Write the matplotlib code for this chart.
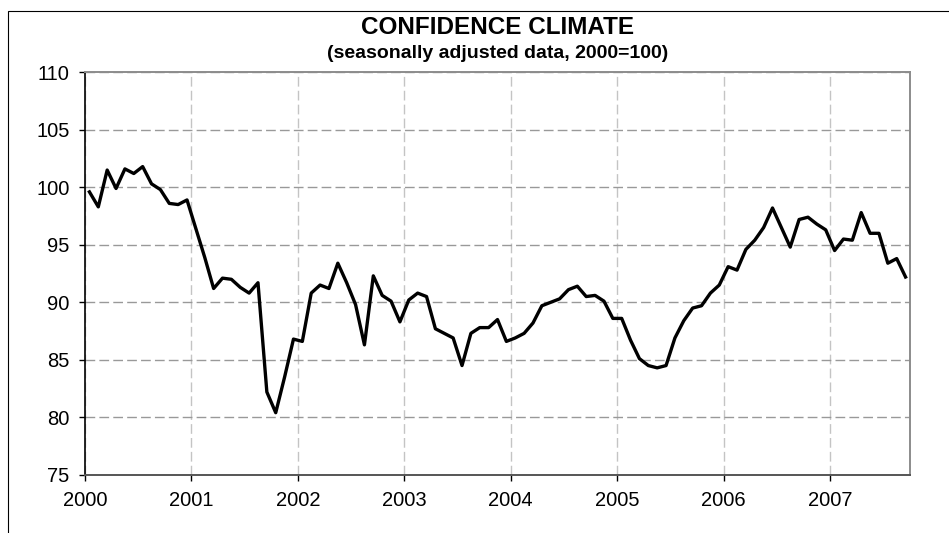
import numpy as np
import matplotlib
matplotlib.use("Agg")
import matplotlib.pyplot as plt
from matplotlib.patches import Rectangle

# monthly confidence climate index, Jan 2000 - Sep 2007
years = ["2000", "2001", "2002", "2003", "2004", "2005", "2006", "2007"]
climate_2000 = [99.6, 98.3, 101.5, 99.9, 101.6, 101.2, 101.8, 100.3, 99.8, 98.6, 98.5, 98.9]
climate_2001 = [96.4, 93.9, 91.2, 92.1, 92.0, 91.3, 90.8, 91.7, 82.2, 80.4, 83.5, 86.8]
climate_2002 = [86.6, 90.8, 91.5, 91.2, 93.4, 91.7, 89.8, 86.3, 92.3, 90.6, 90.1, 88.3]
climate_2003 = [90.2, 90.8, 90.5, 87.7, 87.3, 86.9, 84.5, 87.3, 87.8, 87.8, 88.5, 86.6]
climate_2004 = [86.9, 87.3, 88.2, 89.7, 90.0, 90.3, 91.1, 91.4, 90.5, 90.6, 90.1, 88.6]
climate_2005 = [88.6, 86.7, 85.1, 84.5, 84.3, 84.5, 86.9, 88.4, 89.5, 89.7, 90.8, 91.5]
climate_2006 = [93.1, 92.8, 94.6, 95.4, 96.5, 98.2, 96.5, 94.8, 97.2, 97.4, 96.8, 96.3]
climate_2007 = [94.5, 95.5, 95.4, 97.8, 96.0, 96.0, 93.4, 93.8, 92.2]

values = (climate_2000 + climate_2001 + climate_2002 + climate_2003
          + climate_2004 + climate_2005 + climate_2006 + climate_2007)

W, H = 949, 533
fig = plt.figure(figsize=(W / 100, H / 100), dpi=100)
plt.rcParams["font.family"] = ["Liberation Sans", "DejaVu Sans"]
plt.rcParams["lines.scale_dashes"] = False

# outer chart frame (right/bottom edges fall outside the picture)
fig.patches.append(Rectangle((7.5 / W, -0.1), 1.2, (H - 10.7) / H + 0.1,
                             transform=fig.transFigure, fill=False,
                             edgecolor="black", linewidth=0.8))

ax = fig.add_axes([85 / W, (H - 474.8) / H, (910 - 85) / W, (474.8 - 72.3) / H])

# categories sit between tick marks, like Excel's category axis
x = np.arange(len(values)) + 0.5
ax.plot(x, values, color="black", linewidth=2.4, solid_joinstyle="round")

ax.set_xlim(0, len(values))
ax.set_ylim(75, 110)
ax.set_yticks(np.arange(75, 111, 5))
ax.set_xticks(np.arange(len(years)) * 12)
ax.set_xticklabels(years)

ax.grid(axis="y", color="#999999", linewidth=1.0, linestyle=(0, (7, 3)))
ax.grid(axis="x", color="#c4c4c4", linewidth=1.0, linestyle=(0, (7, 3)))
ax.set_axisbelow(True)

for s in ["top", "right"]:
    ax.spines[s].set_color("#8c8c8c")
    ax.spines[s].set_linewidth(1.4)
ax.spines["left"].set_color("black")
ax.spines["left"].set_linewidth(1.2)
ax.spines["bottom"].set_color("#555555")
ax.spines["bottom"].set_linewidth(1.4)

ax.tick_params(axis="both", direction="out", length=4.5, width=1.0,
               labelsize=14.5, colors="black")
ax.tick_params(axis="y", pad=6.5)
ax.tick_params(axis="x", pad=7)

cx = (85 + 910) / 2 / W
fig.text(cx, 1 - 27 / H, "CONFIDENCE CLIMATE", ha="center", va="center",
         fontsize=17.5, fontweight="bold")
fig.text(cx, 1 - 54 / H, "(seasonally adjusted data, 2000=100)", ha="center",
         va="center", fontsize=14, fontweight="bold")

fig.savefig("out.png", dpi=100)
